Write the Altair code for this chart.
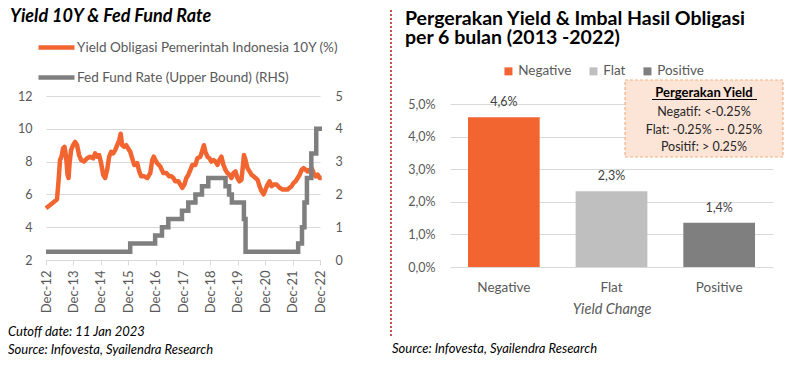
import altair as alt
import pandas as pd

FONT = "Lato"
ORANGE = "#F26430"
GRAY_LINE = "#7F7F7F"
AXIS_TXT = "#595959"

left_title = "Yield 10Y & Fed Fund Rate"
right_title_1 = "Pergerakan Yield & Imbal Hasil Obligasi"
right_title_2 = "per 6 bulan (2013 -2022)"
yield_name = "Yield Obligasi Pemerintah Indonesia 10Y (%)"
fed_name = "Fed Fund Rate (Upper Bound) (RHS)"
foot_cutoff = "Cutoff date: 11 Jan 2023"
foot_source = "Source: Infovesta, Syailendra Research"
box_lines = ["Pergerakan Yield", "Negatif: <-0.25%", "Flat: -0.25% -- 0.25%", "Positif: > 0.25%"]
x_axis_title = "Yield Change"

# decimal years (Dec-12 = 2012.917)
yield_t = [2012.917, 2013.027, 2013.137, 2013.246, 2013.319, 2013.374, 2013.429, 2013.484, 2013.539, 2013.594,
           2013.649, 2013.704, 2013.740, 2013.777, 2013.832, 2013.905, 2013.978, 2014.051, 2014.124, 2014.198,
           2014.307, 2014.417, 2014.527, 2014.637, 2014.710, 2014.783, 2014.856, 2014.929, 2015.003, 2015.076,
           2015.149, 2015.222, 2015.295, 2015.369, 2015.442, 2015.515, 2015.588, 2015.643, 2015.698, 2015.771,
           2015.844, 2015.917, 2015.991, 2016.064, 2016.137, 2016.210, 2016.247, 2016.320, 2016.393, 2016.503,
           2016.613, 2016.722, 2016.796, 2016.851, 2016.905, 2016.978, 2017.088, 2017.198, 2017.308, 2017.418,
           2017.491, 2017.564, 2017.637, 2017.747, 2017.820, 2017.893, 2017.966, 2018.040, 2018.113, 2018.186,
           2018.259, 2018.369, 2018.442, 2018.552, 2018.625, 2018.680, 2018.735, 2018.808, 2018.881, 2018.954,
           2019.027, 2019.101, 2019.174, 2019.247, 2019.320, 2019.393, 2019.466, 2019.540, 2019.613, 2019.686,
           2019.759, 2019.832, 2019.905, 2019.979, 2020.052, 2020.143, 2020.198, 2020.271, 2020.345, 2020.418,
           2020.491, 2020.564, 2020.637, 2020.710, 2020.784, 2020.857, 2020.930, 2021.003, 2021.076, 2021.149,
           2021.223, 2021.332, 2021.442, 2021.552, 2021.662, 2021.735, 2021.808, 2021.881, 2021.954, 2022.028,
           2022.101, 2022.174, 2022.247, 2022.320, 2022.393, 2022.467, 2022.540, 2022.613, 2022.686, 2022.759,
           2022.832, 2022.905, 2022.979]
yield_v = [5.15, 5.3, 5.45, 5.6, 5.7, 6.8, 8.1, 8.3, 8.8, 8.9,
           8.3, 7.2, 7.0, 7.9, 8.7, 9.0, 9.2, 9.0, 8.4, 8.1,
           8.0, 8.2, 8.3, 8.2, 8.5, 8.3, 8.4, 7.9, 7.2, 7.0,
           7.5, 8.3, 8.6, 8.5, 8.7, 9.0, 9.3, 9.7, 9.0, 8.9,
           9.0, 8.8, 8.6, 8.2, 7.8, 7.8, 7.9, 7.4, 7.1, 7.1,
           7.0, 7.3, 8.1, 8.3, 8.1, 7.9, 7.7, 7.3, 7.3, 7.1,
           7.1, 7.0, 6.8, 6.8, 6.6, 6.4, 6.6, 7.0, 7.2, 7.5,
           7.8, 7.8, 8.2, 8.3, 8.7, 9.0, 8.6, 8.3, 8.2, 8.0,
           8.1, 8.0, 7.8, 8.1, 8.3, 7.8, 7.5, 7.3, 7.2, 7.0,
           7.3, 7.4, 7.0, 6.8, 6.9, 8.4, 8.1, 7.6, 7.4, 7.2,
           7.1, 7.0, 6.9, 6.5, 6.2, 6.0, 6.3, 6.6, 6.8, 6.5,
           6.6, 6.6, 6.4, 6.3, 6.3, 6.3, 6.4, 6.5, 6.7, 6.8,
           7.0, 7.2, 7.5, 7.6, 7.5, 7.4, 7.5, 7.6, 7.3, 7.1,
           7.2, 7.0, 7.0]

fed_t = [2012.917, 2015.99, 2016.90, 2017.15, 2017.38, 2017.88, 2018.11, 2018.37, 2018.61, 2018.84,
         2019.47, 2019.60, 2019.70, 2020.14, 2020.20, 2022.12, 2022.26, 2022.35, 2022.44, 2022.60,
         2022.78, 2022.99]
fed_v = [0.25, 0.5, 0.75, 1.0, 1.25, 1.5, 1.75, 2.0, 2.25, 2.5,
         2.25, 2.0, 1.75, 1.25, 0.25, 0.5, 1.0, 1.75, 2.5, 3.25,
         4.0, 4.0]

x_ticks = [2012.917, 2013.917, 2014.917, 2015.917, 2016.917, 2017.917,
           2018.917, 2019.917, 2020.917, 2021.917, 2022.917]
x_tick_labels = ["Dec-12", "Dec-13", "Dec-14", "Dec-15", "Dec-16", "Dec-17",
                 "Dec-18", "Dec-19", "Dec-20", "Dec-21", "Dec-22"]
left_ticks = [2, 4, 6, 8, 10, 12]
right_ticks = [0, 1, 2, 3, 4, 5]

categories = ["Negative", "Flat", "Positive"]
cat_values = [4.61, 2.33, 1.36]
cat_labels = ["4,6%", "2,3%", "1,4%"]
bar_colors = [ORANGE, "#BFBFBF", "#7F7F7F"]
pct_ticks = [0, 1, 2, 3, 4, 5]


def text_layer(txt, x, y, size=13, weight="normal", style="normal", color="#000000",
               align="left", baseline="middle", **kw):
    return alt.Chart(pd.DataFrame({"txt": [txt]})).mark_text(
        align=align, baseline=baseline, fontSize=size, fontWeight=weight,
        fontStyle=style, color=color, font=FONT, **kw
    ).encode(x=alt.value(x), y=alt.value(y), text="txt:N")


# ---------------- left panel ----------------
series_df = pd.DataFrame({
    "t": yield_t + fed_t,
    "v": yield_v + fed_v,
    "series": [yield_name] * len(yield_t) + [fed_name] * len(fed_t),
})

label_js = "[" + ",".join("'" + s + "'" for s in x_tick_labels) + "]"
xscale = alt.Scale(domain=[x_ticks[0], x_ticks[-1]], nice=False, zero=False)
xaxis = alt.Axis(values=x_ticks, tickCount=30,
                 labelExpr=label_js + "[round(datum.value - 2012.917)]",
                 labelAngle=270, labelAlign="right", labelBaseline="middle",
                 labelPadding=5, tickSize=5, ticks=True, grid=False, domain=True,
                 title=None, labelFontSize=13, labelOverlap=False)

base = alt.Chart(series_df)
yield_line = base.transform_filter(alt.datum.series == yield_name).mark_line(
    strokeWidth=4.5, strokeJoin="round"
).encode(
    x=alt.X("t:Q", scale=xscale, axis=xaxis),
    y=alt.Y("v:Q", scale=alt.Scale(domain=[2, 12], nice=False, zero=False),
            axis=alt.Axis(orient="left", values=left_ticks, tickCount=30, format="d",
                          grid=True, ticks=False, domain=False, labelPadding=14, title=None,
                          labelOverlap=False)),
    color=alt.Color("series:N",
                    scale=alt.Scale(domain=[yield_name, fed_name], range=[ORANGE, GRAY_LINE]),
                    legend=alt.Legend(orient="none", legendX=-10, legendY=-69,
                                      direction="vertical", title=None, symbolType="stroke",
                                      symbolSize=1296, symbolStrokeWidth=4.5, labelOffset=0,
                                      rowPadding=-2, labelFontSize=13.5, labelColor=AXIS_TXT,
                                      labelLimit=600, padding=0)),
)
fed_line = base.transform_filter(alt.datum.series == fed_name).mark_line(
    strokeWidth=4.5, interpolate="step-after"
).encode(
    x=alt.X("t:Q", scale=xscale),
    y=alt.Y("v:Q", scale=alt.Scale(domain=[0, 5], nice=False),
            axis=alt.Axis(orient="right", values=right_ticks, tickCount=30, format="d",
                          grid=False, ticks=False, domain=False, labelPadding=15, title=None,
                          labelOverlap=False)),
    color=alt.Color("series:N"),
)

left = alt.layer(
    yield_line, fed_line,
    text_layer(left_title, -36, -74, size=18, weight="bold", style="italic", baseline="alphabetic"),
    text_layer(foot_cutoff, -38, 235.7, size=13, style="italic"),
    text_layer(foot_source, -38, 254, size=13, style="italic"),
).resolve_scale(y="independent").properties(width=274, height=164)

# ---------------- right panel ----------------
bar_df = pd.DataFrame({"cat": categories, "val": cat_values, "lab": cat_labels})

bars = alt.Chart(bar_df).mark_bar().encode(
    x=alt.X("cat:N", sort=categories,
            scale=alt.Scale(paddingInner=0.334, paddingOuter=0.167),
            axis=alt.Axis(labelAngle=0, ticks=False, tickSize=0, domain=False, labelPadding=13,
                          labelFontSize=13.5, title=x_axis_title, titleFontStyle="italic",
                          titleFontWeight="normal", titleFontSize=14.5, titleColor=AXIS_TXT,
                          titlePadding=9)),
    y=alt.Y("val:Q", scale=alt.Scale(domain=[0, 5.26], nice=False),
            axis=alt.Axis(values=pct_ticks, tickCount=30,
                          labelExpr="replace(format(datum.value, '.1f'), '.', ',') + '%'",
                          grid=True, ticks=False, tickSize=0, domain=False, labelPadding=15,
                          title=None, labelOverlap=False)),
    color=alt.Color("cat:N", scale=alt.Scale(domain=categories, range=bar_colors),
                    legend=alt.Legend(orient="none", direction="horizontal", legendX=51.7,
                                      legendY=-31.75, title=None, symbolType="square",
                                      symbolSize=64, symbolStrokeWidth=0, labelOffset=3,
                                      columnPadding=15, labelFontSize=13.5,
                                      labelColor=AXIS_TXT, padding=0)),
)
bar_labels = alt.Chart(bar_df).mark_text(dy=-15, fontSize=12.5, color="#404040", font=FONT).encode(
    x=alt.X("cat:N", sort=categories), y=alt.Y("val:Q"), text="lab:N"
)

one = pd.DataFrame({"k": [0]})
box = alt.Chart(one).mark_rect(fill="#FCE4D6", stroke="#F4B183", strokeDash=[3, 2],
                               strokeWidth=1.2).encode(
    x=alt.value(175), x2=alt.value(333), y=alt.value(-16), y2=alt.value(61))
underline = alt.Chart(one).mark_rule(color="#000000", strokeWidth=1).encode(
    x=alt.value(202), x2=alt.value(307), y=alt.value(3.5))
divider = alt.Chart(one).mark_rule(color="#C9504B", strokeWidth=2, strokeDash=[2, 2]).encode(
    x=alt.value(-59), y=alt.value(-86), y2=alt.value(241))

right = alt.layer(
    bars, bar_labels, box,
    text_layer(box_lines[0], 254, -2.7, size=13, weight="bold", align="center"),
    text_layer(box_lines[1], 254, 15.7, size=12.5, color="#262626", align="center"),
    text_layer(box_lines[2], 254, 34, size=12.5, color="#262626", align="center"),
    text_layer(box_lines[3], 254, 50.7, size=12.5, color="#262626", align="center"),
    underline, divider,
    text_layer(right_title_1, -45, -71.5, size=19.5, weight="bold", baseline="alphabetic"),
    text_layer(right_title_2, -45, -52, size=19.5, weight="bold", baseline="alphabetic"),
    text_layer(foot_source, -58, 253.3, size=13, style="italic"),
).properties(width=323, height=171)

chart = alt.hconcat(left, right, spacing=130, bounds="flush").resolve_scale(
    color="independent"
).properties(padding=0).configure(font=FONT).configure_view(strokeWidth=0).configure_axis(
    labelFont=FONT, labelFontSize=12.5, labelColor=AXIS_TXT, gridColor="#D9D9D9",
    domainColor="#D9D9D9", tickColor="#D9D9D9", titleFont=FONT
).configure_legend(labelFont=FONT)

chart.save("out.html", embed_options={"renderer": "svg", "actions": False})
